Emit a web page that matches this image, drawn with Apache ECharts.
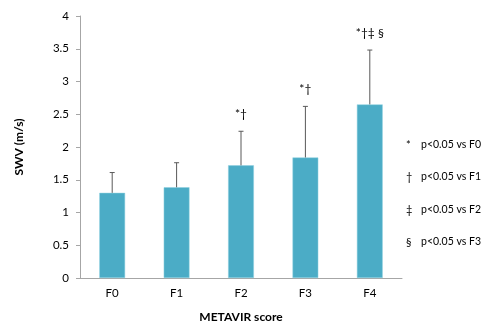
<!DOCTYPE html>
<html>
<head>
<meta charset="utf-8">
<script src="https://cdn.jsdelivr.net/npm/echarts@6/dist/echarts.min.js"></script>
<style>
html,body{margin:0;padding:0;background:#fff;}
#chart{width:485px;height:328px;}
</style>
</head>
<body>
<div id="chart"></div>
<script>
var categories = ['F0', 'F1', 'F2', 'F3', 'F4'];
var means = [1.30, 1.385, 1.72, 1.84, 2.65];
var errorTops = [1.61, 1.76, 2.24, 2.62, 3.48];
var annotations = ['', '', '*\u2020', '*\u2020', '*\u2020\u2021 \u00a7'];
var yTicks = [0, 0.5, 1, 1.5, 2, 2.5, 3, 3.5, 4];
var legendSymbols = ['*', '\u2020', '\u2021', '\u00a7'];
var legendTexts = ['p<0.05 vs F0', 'p<0.05 vs F1', 'p<0.05 vs F2', 'p<0.05 vs F3'];

var FONT = 'Lato';
var chart = echarts.init(document.getElementById('chart'));

var errData = categories.map(function (c, i) { return [i, means[i], errorTops[i], annotations[i]]; });

var legendGraphics = [];
legendSymbols.forEach(function (s, i) {
  var y = 146 + i * 32.4;
  legendGraphics.push({
    type: 'text', left: 406, top: y - 6,
    style: { text: s, font: '11px ' + FONT, fill: '#000' }
  });
  legendGraphics.push({
    type: 'text', left: 421, top: y - 7,
    style: { text: legendTexts[i], font: '10.5px ' + FONT, fill: '#000' }
  });
});

chart.setOption({
  animation: false,
  backgroundColor: '#fff',
  grid: { left: 80, right: 83, top: 16, bottom: 45 },
  xAxis: {
    type: 'category',
    data: categories,
    name: 'METAVIR score',
    nameLocation: 'middle',
    nameGap: 33,
    nameTextStyle: { fontFamily: FONT, fontSize: 12, fontWeight: 'bold', color: '#000' },
    axisLine: { lineStyle: { color: '#a6a6a6', width: 1 } },
    axisTick: { show: false },
    axisLabel: { fontFamily: FONT, fontSize: 11.5, color: '#000', margin: 9 }
  },
  yAxis: {
    type: 'value',
    min: 0, max: 4, interval: 0.5,
    name: 'SWV (m/s)',
    nameLocation: 'middle',
    nameGap: 55,
    nameTextStyle: { fontFamily: FONT, fontSize: 12, fontWeight: 'bold', color: '#000' },
    axisLine: { show: true, lineStyle: { color: '#a6a6a6', width: 1 } },
    axisTick: { show: true, length: 4, lineStyle: { color: '#a6a6a6' } },
    splitLine: { show: false },
    axisLabel: {
      fontFamily: FONT, fontSize: 11.5, color: '#000', margin: 11,
      formatter: function (v) { return yTicks.indexOf(v) >= 0 ? String(v) : ''; }
    }
  },
  series: [
    {
      type: 'bar',
      data: means,
      barWidth: '40%',
      itemStyle: { color: '#4BACC6', borderColor: '#8fd0e0', borderWidth: 0.5 },
      z: 2
    },
    {
      type: 'custom',
      data: errData,
      z: 3,
      renderItem: function (params, api) {
        var x = api.value(0);
        var lo = api.coord([x, api.value(1)]);
        var hi = api.coord([x, api.value(2)]);
        var capHalf = 2.5;
        var label = annotations[params.dataIndex];
        var children = [
          { type: 'line', shape: { x1: lo[0], y1: lo[1], x2: hi[0], y2: hi[1] },
            style: { stroke: '#595959', lineWidth: 1 } },
          { type: 'line', shape: { x1: hi[0] - capHalf, y1: hi[1], x2: hi[0] + capHalf, y2: hi[1] },
            style: { stroke: '#595959', lineWidth: 1 } }
        ];
        if (label) {
          children.push({
            type: 'text', x: hi[0], y: hi[1] - 17,
            style: { text: label, font: '12px ' + FONT, fill: '#000', align: 'center', verticalAlign: 'middle' }
          });
        }
        return { type: 'group', children: children };
      }
    }
  ],
  graphic: legendGraphics
});
</script>
</body>
</html>
